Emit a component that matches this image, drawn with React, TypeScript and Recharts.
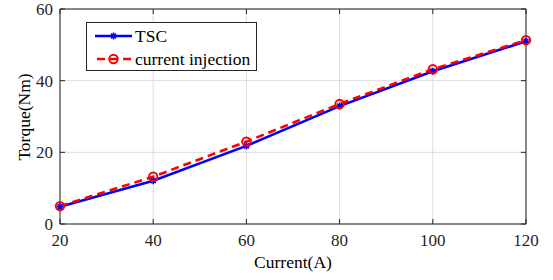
import React from "react";
import {
  LineChart,
  Line,
  XAxis,
  YAxis,
  CartesianGrid,
  ReferenceLine,
} from "recharts";

const currents = [20, 40, 60, 80, 100, 120];
const tscTorque = [4.8, 12.1, 21.8, 32.9, 42.6, 51.0];
const injectionTorque = [5.0, 13.2, 23.0, 33.5, 43.2, 51.3];
const xTicks = [20, 40, 60, 80, 100, 120];
const yTicks = [0, 20, 40, 60];

const data = currents.map((c, i) => ({
  current: c,
  tsc: tscTorque[i],
  inj: injectionTorque[i],
}));

const FONT = "'Liberation Serif', 'Times New Roman', serif";
const AXIS = "#262626";

const Star = (props: any) => {
  const { cx, cy } = props;
  if (cx == null || cy == null) return null;
  const r = 3.5;
  return (
    <g stroke="#0000ff" strokeWidth={1.6}>
      <line x1={cx - r} y1={cy} x2={cx + r} y2={cy} />
      <line x1={cx} y1={cy - r} x2={cx} y2={cy + r} />
      <line x1={cx - r * 0.7} y1={cy - r * 0.7} x2={cx + r * 0.7} y2={cy + r * 0.7} />
      <line x1={cx - r * 0.7} y1={cy + r * 0.7} x2={cx + r * 0.7} y2={cy - r * 0.7} />
    </g>
  );
};

const Ring = (props: any) => {
  const { cx, cy } = props;
  if (cx == null || cy == null) return null;
  return <circle cx={cx} cy={cy} r={4.2} fill="none" stroke="#ff0000" strokeWidth={2} />;
};

const XTick = (props: any) => {
  const { x, payload } = props;
  return (
    <g>
      <line x1={x} y1={224} x2={x} y2={219} stroke={AXIS} />
      <line x1={x} y1={9} x2={x} y2={14} stroke={AXIS} />
      <text x={x} y={246} textAnchor="middle" style={{ fontFamily: FONT, fontSize: 17 }} fill="#262626">
        {payload.value}
      </text>
    </g>
  );
};

const YTick = (props: any) => {
  const { y, payload } = props;
  return (
    <g>
      <line x1={60} y1={y} x2={65} y2={y} stroke={AXIS} />
      <line x1={526} y1={y} x2={521} y2={y} stroke={AXIS} />
      <text x={53} y={y + 6} textAnchor="end" style={{ fontFamily: FONT, fontSize: 17 }} fill="#262626">
        {payload.value}
      </text>
    </g>
  );
};

const XLabel = () => (
  <text x={293} y={268} textAnchor="middle" style={{ fontFamily: FONT, fontSize: 17.5 }} fill="#000">
    Current(A)
  </text>
);

const YLabel = () => (
  <text
    x={30}
    y={117}
    transform="rotate(-90 30 117)"
    textAnchor="middle"
    style={{ fontFamily: FONT, fontSize: 17.5 }}
    fill="#000"
  >
    Torque(Nm)
  </text>
);

export default function App() {
  return (
    <div style={{ position: "absolute", left: 0, top: 0, width: 553, height: 280, background: "#fff" }}>
      <LineChart
        width={553}
        height={280}
        data={data}
        margin={{ top: 9, right: 27, left: 0, bottom: 0 }}
      >
        <CartesianGrid stroke="#dcdcdc" strokeWidth={1} />
        <XAxis
          dataKey="current"
          type="number"
          domain={[20, 120]}
          ticks={xTicks}
          height={56}
          stroke={AXIS}
          tickLine={false}
          tick={<XTick />}
          label={<XLabel />}
        />
        <YAxis
          type="number"
          domain={[0, 60]}
          ticks={yTicks}
          width={60}
          stroke={AXIS}
          tickLine={false}
          tick={<YTick />}
          label={<YLabel />}
        />
        <ReferenceLine y={60} stroke={AXIS} />
        <ReferenceLine x={120} stroke={AXIS} />
        <Line
          dataKey="tsc"
          stroke="#0000ff"
          strokeWidth={2.6}
          dot={<Star />}
          isAnimationActive={false}
        />
        <Line
          dataKey="inj"
          stroke="#ff0000"
          strokeWidth={2.6}
          strokeDasharray="8 5"
          dot={<Ring />}
          isAnimationActive={false}
        />
      </LineChart>
      <div
        style={{
          position: "absolute",
          left: 86,
          top: 22,
          width: 171,
          height: 49,
          border: "1px solid #262626",
          background: "#fff",
          fontFamily: FONT,
          fontSize: 17.5,
          boxSizing: "border-box",
        }}
      >
        <svg width={45} height={48} style={{ position: "absolute", left: 7, top: 0 }}>
          <line x1={1} y1={13} x2={38} y2={13} stroke="#0000ff" strokeWidth={2.6} />
          <Star cx={19.5} cy={13} />
          <line x1={1} y1={36} x2={38} y2={36} stroke="#ff0000" strokeWidth={2.6} strokeDasharray="8 5" strokeDashoffset={-2} />
          <Ring cx={19.5} cy={36} />
        </svg>
        <div style={{ position: "absolute", left: 48, top: 2, lineHeight: "22px" }}>TSC</div>
        <div style={{ position: "absolute", left: 48, top: 25, lineHeight: "22px" }}>current injection</div>
      </div>
    </div>
  );
}
